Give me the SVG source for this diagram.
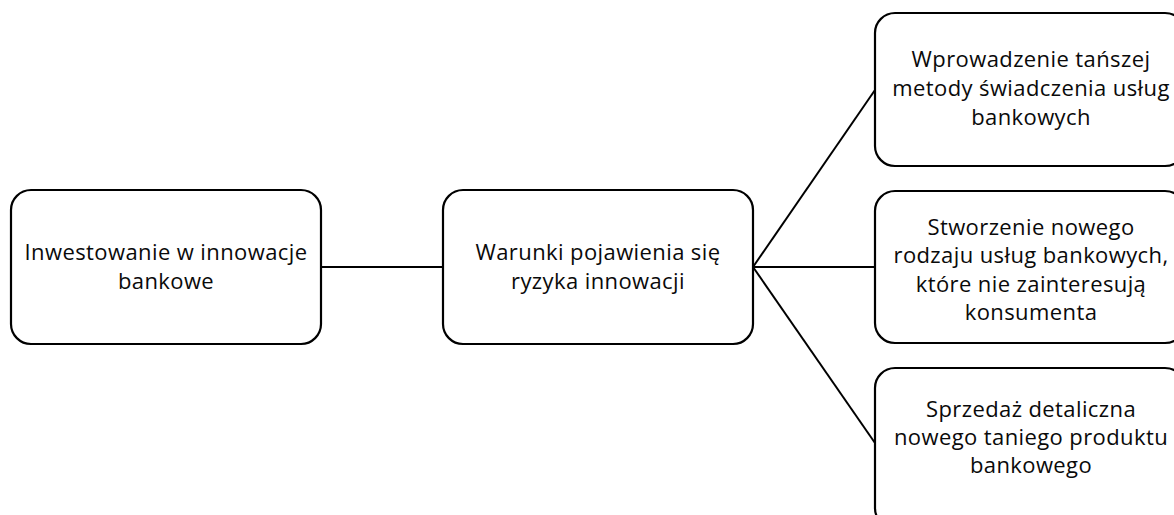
<svg xmlns="http://www.w3.org/2000/svg" width="1174" height="515" viewBox="0 0 1174 515">
  <style>
    .box { fill: #ffffff; stroke: #000000; stroke-width: 2.2; }
    .link { stroke: #000000; stroke-width: 2; fill: none; }
    .label { font-family: "Open Sans", "Noto Sans", "Liberation Sans", sans-serif; font-size: 22px; letter-spacing: 0.4px; fill: #0a0a0a; text-anchor: middle; }
  </style>
  <rect width="1174" height="515" fill="#ffffff"/>

  <!-- connectors -->
  <g id="connectors">
    <line class="link" x1="321" y1="267" x2="443" y2="267"/>
    <line class="link" x1="753" y1="267" x2="875" y2="90"/>
    <line class="link" x1="753" y1="267" x2="875" y2="267"/>
    <line class="link" x1="753" y1="267" x2="875" y2="443"/>
  </g>

  <g id="node-invest">
    <rect class="box" x="11" y="190" width="310" height="154" rx="20"/>
    <text class="label" x="166" y="260">Inwestowanie w innowacje</text>
    <text class="label" x="166" y="289">bankowe</text>
  </g>

  <g id="node-conditions">
    <rect class="box" x="443" y="190" width="310" height="154" rx="20"/>
    <text class="label" x="598" y="260">Warunki pojawienia się</text>
    <text class="label" x="598" y="289">ryzyka innowacji</text>
  </g>

  <g id="node-cheaper-method">
    <rect class="box" x="875" y="13" width="310" height="153" rx="20"/>
    <text class="label" x="1031" y="67">Wprowadzenie tańszej</text>
    <text class="label" x="1031" y="96">metody świadczenia usług</text>
    <text class="label" x="1031" y="125">bankowych</text>
  </g>

  <g id="node-new-service">
    <rect class="box" x="875" y="191" width="310" height="152" rx="20"/>
    <text class="label" x="1031" y="235">Stworzenie nowego</text>
    <text class="label" x="1031" y="263">rodzaju usług bankowych,</text>
    <text class="label" x="1031" y="292">które nie zainteresują</text>
    <text class="label" x="1031" y="320">konsumenta</text>
  </g>

  <g id="node-retail">
    <rect class="box" x="875" y="368" width="310" height="160" rx="20"/>
    <text class="label" x="1031" y="417">Sprzedaż detaliczna</text>
    <text class="label" x="1031" y="445">nowego taniego produktu</text>
    <text class="label" x="1031" y="473">bankowego</text>
  </g>
</svg>
